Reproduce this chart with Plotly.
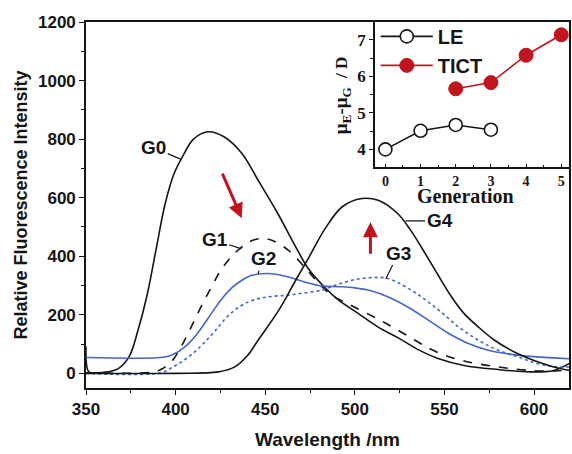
import plotly.graph_objects as go

# ---------------- data ----------------
g0_x = [350, 351.5, 355, 362, 368, 374, 379, 384, 389, 394, 399, 404, 410, 418, 427, 437, 446, 457, 467, 474, 483, 491, 502, 513, 524, 535, 546, 561, 580, 598, 611, 620]
g0_y = [92, 5, 2, 5, 16, 56, 147, 265, 420, 575, 680, 742, 800, 825, 808, 751, 660, 546, 432, 358, 295, 250, 204, 158, 122, 82, 52, 27, 13, 5, 10, 35]

g1_x = [350, 368, 387, 392, 398, 403, 408, 414, 420, 425, 431, 437, 442, 448, 454, 463, 472, 480, 487, 498, 513, 524, 535, 546, 561, 580, 598, 612, 620]
g1_y = [2, 0, 4, 14, 42, 90, 150, 225, 295, 350, 398, 432, 452, 461, 454, 420, 363, 307, 267, 232, 185, 148, 108, 72, 42, 22, 10, 8, 14]

g2_x = [350, 394, 399, 405, 410, 415, 420, 425, 431, 437, 442, 448, 454, 463, 472, 482, 491, 500, 509, 519, 530, 541, 552, 563, 574, 585, 600, 620]
g2_y = [54, 56, 66, 90, 120, 160, 205, 248, 290, 318, 334, 340, 340, 329, 312, 298, 296, 292, 282, 260, 225, 182, 138, 103, 80, 67, 57, 50]

g3_x = [350, 392, 398, 404, 410, 416, 422, 429, 435, 441, 447, 454, 463, 472, 482, 491, 500, 509, 517, 524, 535, 547, 558, 569, 580, 591, 602, 613, 620]
g3_y = [0, 2, 20, 42, 70, 105, 145, 195, 225, 245, 256, 263, 267, 275, 285, 305, 320, 327, 326, 310, 270, 215, 158, 113, 79, 56, 33, 22, 22]

g4_x = [350, 400, 424, 433, 440, 446, 457.5, 467, 474, 483.5, 493, 504, 513, 524, 531, 539, 546.5, 554, 561, 569, 578, 589, 600, 611, 620]
g4_y = [0, 0, 5, 22, 60, 113, 215, 318, 392, 495, 569, 597, 591, 545, 490, 412, 335, 261, 204, 158, 113, 73, 44, 22, 10]

generation_le = [0, 1, 2, 3]
dipole_le = [4.0, 4.51, 4.67, 4.54]
generation_tict = [2, 3, 4, 5]
dipole_tict = [5.66, 5.83, 6.58, 7.14]

x_ticks = [350, 400, 450, 500, 550, 600]
y_ticks = [0, 200, 400, 600, 800, 1000, 1200]
gen_ticks = [0, 1, 2, 3, 4, 5]
dip_ticks = [4, 5, 6, 7]

# ---------------- styling ----------------
BLACK = "#151515"
BLUE = "#4466cc"
RED = "#c0141f"
SANS = "Arial, Liberation Sans, sans-serif"
SERIF = "Times New Roman, Liberation Serif, serif"

fig = go.Figure()

def spec(x, y, color, dash, name):
    fig.add_trace(go.Scatter(x=x, y=y, mode="lines", name=name, showlegend=False,
                             line=dict(color=color, width=1.6, dash=dash, shape="spline", smoothing=1.0),
                             xaxis="x", yaxis="y"))

spec(g0_x, g0_y, BLACK, "solid", "G0")
spec(g1_x, g1_y, BLACK, "dash", "G1")
spec(g2_x, g2_y, BLUE, "solid", "G2")
spec(g3_x, g3_y, BLUE, "dot", "G3")
spec(g4_x, g4_y, BLACK, "solid", "G4")

fig.add_trace(go.Scatter(x=generation_le, y=dipole_le, mode="lines+markers", name="LE",
                         line=dict(color=BLACK, width=1.6),
                         marker=dict(symbol="circle", size=13, color="white", line=dict(color=BLACK, width=1.6)),
                         xaxis="x2", yaxis="y2"))
fig.add_trace(go.Scatter(x=generation_tict, y=dipole_tict, mode="lines+markers", name="TICT",
                         line=dict(color=RED, width=1.6),
                         marker=dict(symbol="circle", size=14, color=RED, line=dict(color=RED, width=1)),
                         xaxis="x2", yaxis="y2"))

# curve labels with leader lines
labels = [("G0", 403.4, 730, -28, -12), ("G1", 436.8, 425, -27, -9), ("G2", 446, 340, 5, -15),
          ("G3", 517.2, 322, 13, -26), ("G4", 528.3, 521, 34, 0)]
for txt, x, y, ax, ay in labels:
    fig.add_annotation(x=x, y=y, xref="x", yref="y", ax=ax, ay=ay, text=txt,
                       showarrow=True, arrowhead=0, arrowwidth=1.2, arrowcolor=BLACK, standoff=0,
                       font=dict(family=SANS, size=19, color=BLACK, weight="bold"))

# red arrows
fig.add_annotation(x=436.9, y=530, xref="x", yref="y", ax=-20, ay=-46, text="",
                   showarrow=True, arrowhead=2, arrowwidth=3, arrowsize=1, arrowcolor=RED)
fig.add_annotation(x=508.7, y=516, xref="x", yref="y", ax=0, ay=33, text="",
                   showarrow=True, arrowhead=2, arrowwidth=3, arrowsize=1, arrowcolor=RED)

# inset axis titles
fig.add_annotation(x=0.786, y=0.524, xref="paper", yref="paper", showarrow=False,
                   text="Generation", xanchor="center", yanchor="middle", borderpad=0,
                   font=dict(family=SERIF, size=20, color=BLACK, weight="bold"))
fig.add_annotation(x=0.530, y=0.80, xref="paper", yref="paper", showarrow=False, textangle=-90,
                   text="μ<sub>E</sub>-μ<sub>G</sub> <span style='font-size:17px'> / D</span>",
                   xanchor="center", yanchor="middle",
                   font=dict(family=SERIF, size=19, color=BLACK, weight="bold"))

axis_common = dict(showline=True, linecolor=BLACK, linewidth=1.6, mirror=True, showgrid=False,
                   zeroline=False, ticks="outside", tickcolor=BLACK, tickwidth=1.4)

fig.update_layout(
    width=572, height=454,
    margin=dict(l=86, r=1, t=22, b=66),
    paper_bgcolor="white", plot_bgcolor="white",
    xaxis=dict(**axis_common, range=[350, 619.5], tickvals=x_ticks, ticklen=5,
               minor=dict(dtick=25, ticks="outside", ticklen=3, tickcolor=BLACK),
               tickfont=dict(family=SANS, size=17, color=BLACK, weight="bold"),
               title=dict(text="Wavelength /nm", standoff=14,
                          font=dict(family=SANS, size=19, color=BLACK, weight="bold"))),
    yaxis=dict(**axis_common, range=[-50, 1200], tickvals=y_ticks, ticklen=5,
               minor=dict(dtick=100, ticks="outside", ticklen=3, tickcolor=BLACK),
               tickfont=dict(family=SANS, size=17, color=BLACK, weight="bold"),
               title=dict(text="Relative Fluorescence Intensity", standoff=6,
                          font=dict(family=SANS, size=18, color=BLACK, weight="bold"))),
    xaxis2=dict(showline=True, linecolor=BLACK, linewidth=1.6, mirror=True, showgrid=False,
                zeroline=False, ticks="inside", tickcolor=BLACK, tickwidth=1.4,
                domain=[0.598, 1.0], anchor="y2", range=[-0.3, 5.22],
                tickvals=gen_ticks, ticklen=3,
                minor=dict(dtick=0.5, ticks="inside", ticklen=2, tickcolor=BLACK),
                tickfont=dict(family=SERIF, size=14, color=BLACK, weight="bold")),
    yaxis2=dict(**axis_common, domain=[0.604, 1.0], anchor="x2", range=[3.52, 7.49],
                tickvals=dip_ticks, ticklen=4,
                minor=dict(dtick=0.5, ticks="outside", ticklen=3, tickcolor=BLACK),
                tickfont=dict(family=SERIF, size=17, color=BLACK, weight="bold")),
    legend=dict(x=0.60, y=1.014, xanchor="left", yanchor="top", bgcolor="rgba(0,0,0,0)",
                font=dict(family=SANS, size=20, color=BLACK, weight="bold"),
                tracegroupgap=0, itemwidth=52),
    showlegend=True,
)

fig.write_html("out.html")
